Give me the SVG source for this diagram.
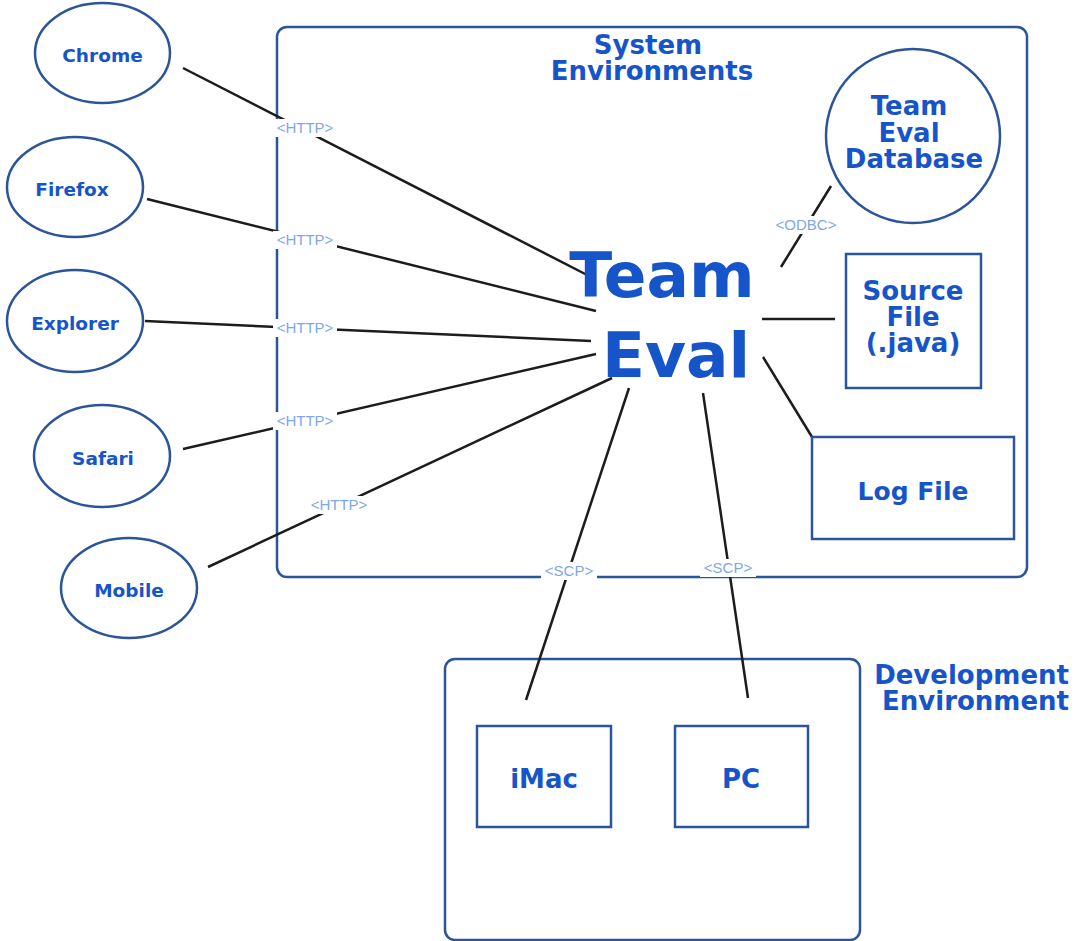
<svg xmlns="http://www.w3.org/2000/svg" width="1078" height="941" viewBox="0 0 1078 941">
<style>
.cont{fill:none;stroke:#2b559a;stroke-width:2.5}
.shape{fill:#ffffff;stroke:#2b559a;stroke-width:2.5}
.t{font-family:"DejaVu Sans",Verdana,sans-serif;font-weight:bold;fill:#1655c9;text-anchor:middle}
.conn{stroke:#1c1c1c;stroke-width:2.5;fill:none}
.lblbg{fill:#ffffff}
.lbl{font-family:"Liberation Sans",Arial,sans-serif;font-size:15px;fill:#7ea7ea;text-anchor:middle}
</style>
<rect width="1078" height="941" fill="#ffffff"/>
<g id="system-env">
<rect class="cont" x="277" y="27" width="750" height="550" rx="10"/>
<text class="t" font-size="26" x="648" y="54">System</text>
<text class="t" font-size="26" x="652" y="80">Environments</text>
</g>
<g id="dev-env">
<rect class="cont" x="445" y="659" width="415" height="281" rx="10"/>
<text class="t" font-size="26" x="1069" y="684" style="text-anchor:end">Development</text>
<text class="t" font-size="26" x="1069" y="710" style="text-anchor:end">Environment</text>
</g>
<g id="connectors">
<line class="conn" x1="183" y1="68" x2="593" y2="278"/>
<line class="conn" x1="147" y1="199" x2="596" y2="311"/>
<line class="conn" x1="145" y1="321" x2="591" y2="341"/>
<line class="conn" x1="183" y1="449" x2="596" y2="354"/>
<line class="conn" x1="208" y1="567" x2="612" y2="378"/>
<line class="conn" x1="781" y1="267" x2="831" y2="186"/>
<line class="conn" x1="762" y1="319" x2="835" y2="319"/>
<line class="conn" x1="763" y1="357" x2="812" y2="437"/>
<line class="conn" x1="629" y1="388" x2="526" y2="700"/>
<line class="conn" x1="703" y1="393" x2="748" y2="698"/>
<rect class="lblbg" x="273" y="119" width="64" height="18"/>
<text class="lbl" x="305" y="133">&lt;HTTP&gt;</text>
<rect class="lblbg" x="273" y="231" width="64" height="18"/>
<text class="lbl" x="305" y="245">&lt;HTTP&gt;</text>
<rect class="lblbg" x="273" y="319" width="64" height="18"/>
<text class="lbl" x="305" y="333">&lt;HTTP&gt;</text>
<rect class="lblbg" x="273" y="412" width="64" height="18"/>
<text class="lbl" x="305" y="426">&lt;HTTP&gt;</text>
<rect class="lblbg" x="307" y="496" width="64" height="18"/>
<text class="lbl" x="339" y="510">&lt;HTTP&gt;</text>
<rect class="lblbg" x="772" y="216" width="68" height="18"/>
<text class="lbl" x="806" y="230">&lt;ODBC&gt;</text>
<rect class="lblbg" x="541" y="562" width="56" height="18"/>
<text class="lbl" x="569" y="576">&lt;SCP&gt;</text>
<rect class="lblbg" x="700" y="559" width="56" height="18"/>
<text class="lbl" x="728" y="573">&lt;SCP&gt;</text>
</g>
<g id="chrome">
<ellipse class="shape" cx="102.5" cy="53" rx="67.5" ry="50"/>
<text class="t" font-size="18.5" x="102.5" y="62">Chrome</text>
</g>
<g id="firefox">
<ellipse class="shape" cx="75" cy="187" rx="68" ry="50"/>
<text class="t" font-size="18.5" x="72" y="196">Firefox</text>
</g>
<g id="explorer">
<ellipse class="shape" cx="75" cy="321" rx="68" ry="51"/>
<text class="t" font-size="18.5" x="75" y="330">Explorer</text>
</g>
<g id="safari">
<ellipse class="shape" cx="102" cy="456" rx="68" ry="51"/>
<text class="t" font-size="18.5" x="103" y="465">Safari</text>
</g>
<g id="mobile">
<ellipse class="shape" cx="129" cy="588" rx="68" ry="50"/>
<text class="t" font-size="18.5" x="129" y="597">Mobile</text>
</g>
<g id="team-eval">
<text class="t" font-size="63" x="662" y="297">Team</text>
<text class="t" font-size="63" x="676" y="377">Eval</text>
</g>
<g id="database">
<circle class="shape" cx="913" cy="136" r="87"/>
<text class="t" font-size="26" x="909" y="115">Team</text>
<text class="t" font-size="26" x="909" y="142">Eval</text>
<text class="t" font-size="26" x="914" y="168">Database</text>
</g>
<g id="source-file">
<rect class="shape" x="846" y="254" width="135" height="134"/>
<text class="t" font-size="26" x="913" y="300">Source</text>
<text class="t" font-size="26" x="913" y="326">File</text>
<text class="t" font-size="26" x="913" y="352">(.java)</text>
</g>
<g id="log-file">
<rect class="shape" x="812" y="437" width="202" height="102"/>
<text class="t" font-size="25" x="913" y="500">Log File</text>
</g>
<g id="imac">
<rect class="shape" x="477" y="726" width="134" height="101"/>
<text class="t" font-size="26" x="544" y="788">iMac</text>
</g>
<g id="pc">
<rect class="shape" x="675" y="726" width="133" height="101"/>
<text class="t" font-size="26" x="741" y="788">PC</text>
</g>
</svg>
